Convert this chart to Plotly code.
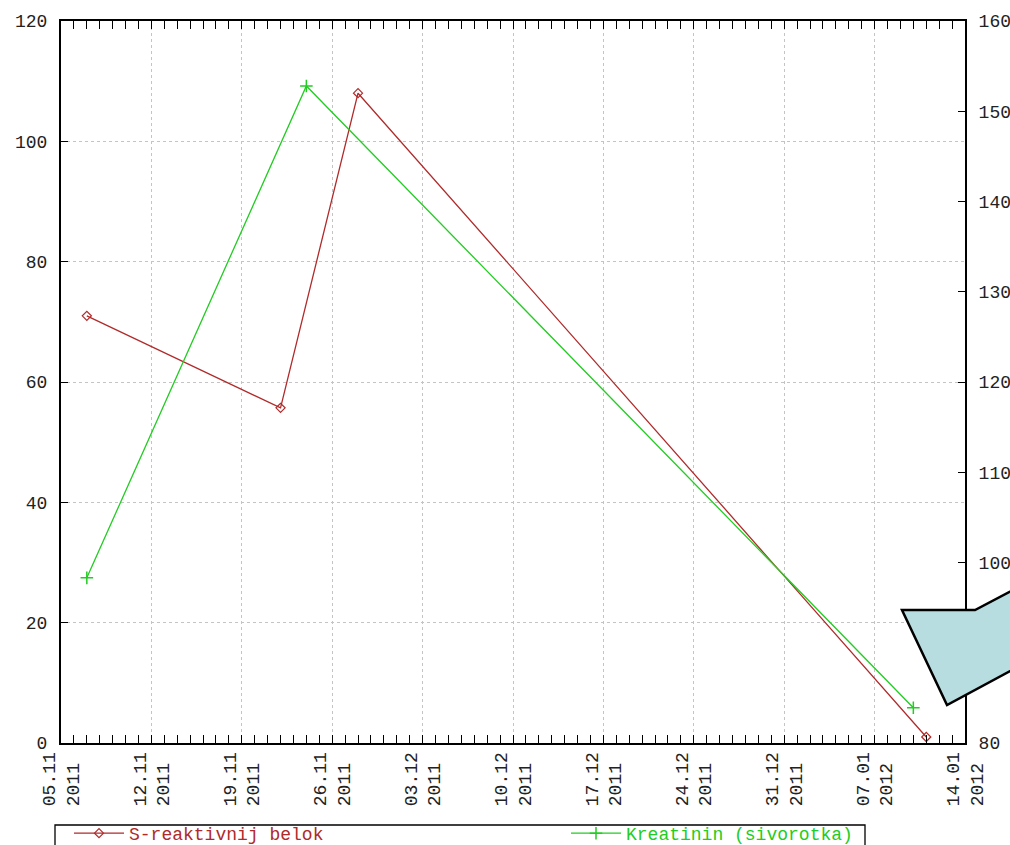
import plotly.graph_objects as go

# ---- data ----
crp_dates = ["2011-11-07", "2011-11-22", "2011-11-28", "2012-01-11"]
crp_values = [71.0, 55.7, 108.0, 1.0]
creat_dates = ["2011-11-07", "2011-11-24", "2012-01-10"]
creat_values = [98.3, 152.8, 83.9]

tick_dates = ["2011-11-05", "2011-11-12", "2011-11-19", "2011-11-26", "2011-12-03",
              "2011-12-10", "2011-12-17", "2011-12-24", "2011-12-31", "2012-01-07",
              "2012-01-14"]
tick_days = ["05.11", "12.11", "19.11", "26.11", "03.12", "10.12", "17.12", "24.12",
             "31.12", "07.01", "14.01"]
tick_years = ["2011", "2011", "2011", "2011", "2011", "2011", "2011", "2011", "2011",
              "2012", "2012"]
tick_labels = [f"{d}<br>{y}\u00a0" for d, y in zip(tick_days, tick_years)]

series_names = ["S-reaktivnij belok", "Kreatinin (sivorotka)"]
red = "#b02a2a"
green = "#22cc22"

# ---- geometry (pixels) ----
W, H = 1010, 845
L, R, T, B = 61, 45, 21, 102
PW, PH = W - L - R, H - T - B


def px(x):
    return (x - L) / PW


def py(y):
    return (H - B - y) / PH


FONT = "Liberation Mono"

fig = go.Figure()
fig.add_trace(go.Scatter(
    x=crp_dates, y=crp_values, mode="lines+markers",
    name=f"<span style='color:{red}'>{series_names[0]}</span>",
    line=dict(color=red, width=1.3),
    marker=dict(symbol="diamond-open", size=7, color=red, line=dict(width=1.2)),
    legendwidth=432,
))
fig.add_trace(go.Scatter(
    x=creat_dates, y=creat_values, mode="lines+markers", yaxis="y2",
    name=f"<span style='color:{green}'>{series_names[1]}</span>",
    line=dict(color=green, width=1.3),
    marker=dict(symbol="cross-thin", size=9, color=green, line=dict(width=1.5, color=green)),
))

# callout shape (decoration)
pts = [(902, 610), (975, 610), (1040, 576), (1040, 655), (947, 705)]
path = "M " + " L ".join(f"{px(x):.4f},{py(y):.4f}" for x, y in pts) + " Z"
fig.add_shape(type="path", path=path, xref="paper", yref="paper",
              fillcolor="#b7dde1", line=dict(color="black", width=2.5), layer="above")

# legend frame
fig.add_shape(type="rect", xref="paper", yref="paper",
              x0=px(55), x1=px(865), y0=py(825), y1=py(860),
              line=dict(color="black", width=1.3), fillcolor="rgba(0,0,0,0)", layer="below")

grid = dict(gridcolor="#c4c4c4", griddash="3px,3px", gridwidth=1)
tickfont = dict(family=FONT, size=18, color="#222")

fig.update_layout(
    width=W, height=H,
    margin=dict(l=L, r=R, t=T, b=B, autoexpand=False),
    paper_bgcolor="white", plot_bgcolor="white",
    showlegend=True,
    legend=dict(orientation="h", x=px(69), y=py(815), xanchor="left", yanchor="top",
                borderwidth=0, bgcolor="rgba(0,0,0,0)",
                font=dict(family=FONT, size=18), itemwidth=50, traceorder="normal"),
    xaxis=dict(type="date", range=[tick_dates[0], tick_dates[-1]],
               tickmode="array", tickvals=tick_dates, ticktext=tick_labels,
               tickangle=-90, tickfont=tickfont,
               ticks="inside", ticklen=8, tickwidth=1, tickcolor="black",
               showline=True, linewidth=2, linecolor="black", mirror="allticks",
               showgrid=True, zeroline=False,
               minor=dict(dtick=86400000, ticks="inside", ticklen=4, tickcolor="black",
                          tickwidth=1, showgrid=False),
               **grid),
    yaxis=dict(range=[0, 120], tick0=0, dtick=20, tickfont=tickfont,
               ticks="inside", ticklen=7, tickwidth=1, tickcolor="black",
               showline=True, linewidth=2, linecolor="black", mirror=False,
               showgrid=True, zeroline=False, ticklabelstandoff=8, **grid),
    yaxis2=dict(range=[80, 160], tick0=80, dtick=10, tickfont=tickfont,
                overlaying="y", side="right", anchor="x",
                ticks="inside", ticklen=7, tickwidth=1, tickcolor="black",
                showline=True, linewidth=2, linecolor="black",
                showgrid=False, zeroline=False, ticklabelstandoff=8),
)

fig.write_html("out.html", config={"displayModeBar": False},
               post_script="document.body.style.margin='0';document.body.style.overflow='hidden';")
